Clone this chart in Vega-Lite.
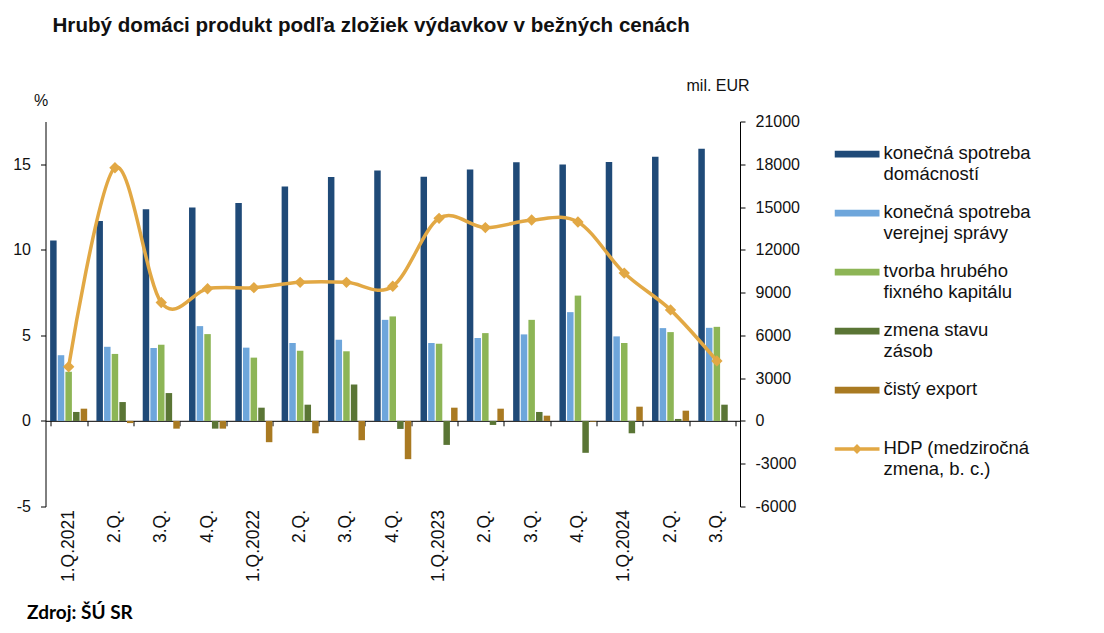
{
  "$schema": "https://vega.github.io/schema/vega-lite/v6.json",
  "width": 694.5,
  "height": 385,
  "autosize": {"type": "none"},
  "padding": {"left": 45.5, "top": 121.5, "right": 364, "bottom": 126.5},
  "background": "white",
  "config": {
    "view": {"stroke": null},
    "font": "Liberation Sans",
    "axis": {"labelFont": "Liberation Sans", "labelFontSize": 16, "labelColor": "#111", "domainColor": "#000", "tickColor": "#000", "grid": false, "titleFont": "Liberation Sans", "titleFontWeight": "normal", "titleFontSize": 16, "titleColor": "#111"}
  },
  "title": {
    "text": "Hrubý domáci produkt podľa zložiek výdavkov v bežných cenách",
    "anchor": "start",
    "frame": "group",
    "font": "Liberation Sans",
    "fontSize": 20.6,
    "fontWeight": "bold",
    "color": "#111",
    "dx": 7,
    "offset": 40
  },
  "datasets": {
    "bars": [
      {"q": "2021-1", "series": "konečná spotreba domácností", "value": 12650},
      {"q": "2021-1", "series": "konečná spotreba verejnej správy", "value": 4610},
      {"q": "2021-1", "series": "tvorba hrubého fixného kapitálu", "value": 3450},
      {"q": "2021-1", "series": "zmena stavu zásob", "value": 630},
      {"q": "2021-1", "series": "čistý export", "value": 860},
      {"q": "2021-2", "series": "konečná spotreba domácností", "value": 14025},
      {"q": "2021-2", "series": "konečná spotreba verejnej správy", "value": 5200},
      {"q": "2021-2", "series": "tvorba hrubého fixného kapitálu", "value": 4700},
      {"q": "2021-2", "series": "zmena stavu zásob", "value": 1325},
      {"q": "2021-2", "series": "čistý export", "value": -150},
      {"q": "2021-3", "series": "konečná spotreba domácností", "value": 14840},
      {"q": "2021-3", "series": "konečná spotreba verejnej správy", "value": 5115},
      {"q": "2021-3", "series": "tvorba hrubého fixného kapitálu", "value": 5345},
      {"q": "2021-3", "series": "zmena stavu zásob", "value": 1955},
      {"q": "2021-3", "series": "čistý export", "value": -540},
      {"q": "2021-4", "series": "konečná spotreba domácností", "value": 14975},
      {"q": "2021-4", "series": "konečná spotreba verejnej správy", "value": 6650},
      {"q": "2021-4", "series": "tvorba hrubého fixného kapitálu", "value": 6090},
      {"q": "2021-4", "series": "zmena stavu zásob", "value": -540},
      {"q": "2021-4", "series": "čistý export", "value": -540},
      {"q": "2022-1", "series": "konečná spotreba domácností", "value": 15280},
      {"q": "2022-1", "series": "konečná spotreba verejnej správy", "value": 5140},
      {"q": "2022-1", "series": "tvorba hrubého fixného kapitálu", "value": 4440},
      {"q": "2022-1", "series": "zmena stavu zásob", "value": 930},
      {"q": "2022-1", "series": "čistý export", "value": -1490},
      {"q": "2022-2", "series": "konečná spotreba domácností", "value": 16440},
      {"q": "2022-2", "series": "konečná spotreba verejnej správy", "value": 5465},
      {"q": "2022-2", "series": "tvorba hrubého fixného kapitálu", "value": 4930},
      {"q": "2022-2", "series": "zmena stavu zásob", "value": 1140},
      {"q": "2022-2", "series": "čistý export", "value": -865},
      {"q": "2022-3", "series": "konečná spotreba domácností", "value": 17100},
      {"q": "2022-3", "series": "konečná spotreba verejnej správy", "value": 5695},
      {"q": "2022-3", "series": "tvorba hrubého fixného kapitálu", "value": 4885},
      {"q": "2022-3", "series": "zmena stavu zásob", "value": 2555},
      {"q": "2022-3", "series": "čistý export", "value": -1350},
      {"q": "2022-4", "series": "konečná spotreba domácností", "value": 17560},
      {"q": "2022-4", "series": "konečná spotreba verejnej správy", "value": 7090},
      {"q": "2022-4", "series": "tvorba hrubého fixného kapitálu", "value": 7330},
      {"q": "2022-4", "series": "zmena stavu zásob", "value": -560},
      {"q": "2022-4", "series": "čistý export", "value": -2680},
      {"q": "2023-1", "series": "konečná spotreba domácností", "value": 17120},
      {"q": "2023-1", "series": "konečná spotreba verejnej správy", "value": 5465},
      {"q": "2023-1", "series": "tvorba hrubého fixného kapitálu", "value": 5415},
      {"q": "2023-1", "series": "zmena stavu zásob", "value": -1680},
      {"q": "2023-1", "series": "čistý export", "value": 930},
      {"q": "2023-2", "series": "konečná spotreba domácností", "value": 17630},
      {"q": "2023-2", "series": "konečná spotreba verejnej správy", "value": 5815},
      {"q": "2023-2", "series": "tvorba hrubého fixného kapitálu", "value": 6160},
      {"q": "2023-2", "series": "zmena stavu zásob", "value": -280},
      {"q": "2023-2", "series": "čistý export", "value": 860},
      {"q": "2023-3", "series": "konečná spotreba domácností", "value": 18140},
      {"q": "2023-3", "series": "konečná spotreba verejnej správy", "value": 6070},
      {"q": "2023-3", "series": "tvorba hrubého fixného kapitálu", "value": 7090},
      {"q": "2023-3", "series": "zmena stavu zásob", "value": 630},
      {"q": "2023-3", "series": "čistý export", "value": 370},
      {"q": "2023-4", "series": "konečná spotreba domácností", "value": 17980},
      {"q": "2023-4", "series": "konečná spotreba verejnej správy", "value": 7630},
      {"q": "2023-4", "series": "tvorba hrubého fixného kapitálu", "value": 8790},
      {"q": "2023-4", "series": "zmena stavu zásob", "value": -2235},
      {"q": "2023-4", "series": "čistý export", "value": -50},
      {"q": "2024-1", "series": "konečná spotreba domácností", "value": 18165},
      {"q": "2024-1", "series": "konečná spotreba verejnej správy", "value": 5930},
      {"q": "2024-1", "series": "tvorba hrubého fixného kapitálu", "value": 5465},
      {"q": "2024-1", "series": "zmena stavu zásob", "value": -865},
      {"q": "2024-1", "series": "čistý export", "value": 1000},
      {"q": "2024-2", "series": "konečná spotreba domácností", "value": 18535},
      {"q": "2024-2", "series": "konečná spotreba verejnej správy", "value": 6510},
      {"q": "2024-2", "series": "tvorba hrubého fixného kapitálu", "value": 6230},
      {"q": "2024-2", "series": "zmena stavu zásob", "value": 140},
      {"q": "2024-2", "series": "čistý export", "value": 720},
      {"q": "2024-3", "series": "konečná spotreba domácností", "value": 19090},
      {"q": "2024-3", "series": "konečná spotreba verejnej správy", "value": 6530},
      {"q": "2024-3", "series": "tvorba hrubého fixného kapitálu", "value": 6600},
      {"q": "2024-3", "series": "zmena stavu zásob", "value": 1140},
      {"q": "2024-3", "series": "čistý export", "value": 0}
    ],
    "hdp": [
      {"q": "2021-1", "hdp": 3.17},
      {"q": "2021-2", "hdp": 14.8},
      {"q": "2021-3", "hdp": 6.92},
      {"q": "2021-4", "hdp": 7.73},
      {"q": "2022-1", "hdp": 7.79},
      {"q": "2022-2", "hdp": 8.1},
      {"q": "2022-3", "hdp": 8.1},
      {"q": "2022-4", "hdp": 7.87},
      {"q": "2023-1", "hdp": 11.84},
      {"q": "2023-2", "hdp": 11.3},
      {"q": "2023-3", "hdp": 11.74},
      {"q": "2023-4", "hdp": 11.63},
      {"q": "2024-1", "hdp": 8.64},
      {"q": "2024-2", "hdp": 6.49},
      {"q": "2024-3", "hdp": 3.51}
    ]
  },
  "layer": [
    {
      "data": {"name": "bars"},
      "mark": {"type": "bar"},
      "encoding": {
        "x": {
          "field": "q",
          "type": "nominal",
          "sort": null,
          "scale": {"paddingInner": 0.2, "paddingOuter": 0.1},
          "axis": {
            "orient": "bottom",
            "domain": false,
            "ticks": false,
            "labelAngle": -90,
            "labelAlign": "right",
            "labelBaseline": "middle",
            "labelPadding": 3,
            "labelFontSize": 17.5,
            "labelExpr": "substring(datum.value, 5, 6) == '1' ? '1.Q.' + substring(datum.value, 0, 4) : substring(datum.value, 5, 6) + '.Q.'",
            "title": "Zdroj: ŠÚ SR",
            "titleFont": "Lato",
            "titleFontWeight": "bold",
            "titleFontSize": 19,
            "titleColor": "#000",
            "titleAlign": "left",
            "titleBaseline": "middle",
            "titleAngle": 0,
            "titleX": -19,
            "titleY": 106
          }
        },
        "xOffset": {
          "field": "series",
          "type": "nominal",
          "sort": ["konečná spotreba domácností", "konečná spotreba verejnej správy", "tvorba hrubého fixného kapitálu", "zmena stavu zásob", "čistý export"],
          "scale": {"paddingInner": 0.15, "paddingOuter": 0}
        },
        "y": {
          "field": "value",
          "type": "quantitative",
          "scale": {"domain": [-6000, 21000], "nice": false, "zero": false},
          "axis": {
            "orient": "right",
            "values": [-6000, -3000, 0, 3000, 6000, 9000, 12000, 15000, 18000, 21000],
            "format": "d",
            "labelExpr": "replace(datum.label, '−', '-')",
            "tickSize": 5,
            "labelPadding": 10,
            "title": "mil. EUR",
            "titleAngle": 0,
            "titleAlign": "left",
            "titleBaseline": "middle",
            "titleX": -54,
            "titleY": -36.5
          }
        },
        "color": {
          "field": "series",
          "type": "nominal",
          "scale": {
            "domain": ["konečná spotreba domácností", "konečná spotreba verejnej správy", "tvorba hrubého fixného kapitálu", "zmena stavu zásob", "čistý export", "HDP (medziročná zmena, b. c.)"],
            "range": ["#1F4A78", "#6EA6DB", "#8DB556", "#5A7535", "#A97A22", "#E2A844"]
          },
          "legend": {
            "title": null,
            "orient": "none",
            "legendX": 789,
            "legendY": 3.25,
            "labelFont": "Liberation Sans",
            "labelFontSize": 18.5,
            "labelColor": "#111",
            "labelLimit": 300,
            "labelOffset": 4,
            "symbolSize": 2025,
            "symbolStrokeWidth": 0,
            "symbolOpacity": 1,
            "clipHeight": 58.5,
            "rowPadding": 0,
            "labelExpr": "datum.label == 'konečná spotreba domácností' ? ['konečná spotreba', 'domácností'] : datum.label == 'konečná spotreba verejnej správy' ? ['konečná spotreba', 'verejnej správy'] : datum.label == 'tvorba hrubého fixného kapitálu' ? ['tvorba hrubého', 'fixného kapitálu'] : datum.label == 'zmena stavu zásob' ? ['zmena stavu', 'zásob'] : datum.label == 'HDP (medziročná zmena, b. c.)' ? ['HDP (medziročná', 'zmena, b. c.)'] : datum.label",
            "encode": {
              "symbols": {
                "update": {
                  "shape": {"signal": "datum.label == 'HDP (medziročná zmena, b. c.)' ? 'M-1,-0.075H1V0.075H-1Z M-0.22,0L0,-0.22L0.22,0L0,0.22Z' : 'M-1,-0.15H1V0.15H-1Z'"},
                  "fillOpacity": {"value": 1},
                  "strokeWidth": {"value": 0}
                }
              },
              "labels": {
                "update": {"baseline": {"value": "top"}, "dy": {"value": -10.5}, "lineHeight": {"value": 21}}
              }
            }
          }
        }
      }
    },
    {
      "data": {"name": "hdp"},
      "mark": {"type": "line", "interpolate": "cardinal", "strokeWidth": 3.5, "point": {"shape": "diamond", "size": 130, "filled": true, "opacity": 1}},
      "encoding": {
        "x": {
          "field": "q",
          "type": "nominal",
          "sort": null,
          "axis": {
            "orient": "bottom",
            "offset": -85.7,
            "labels": false,
            "domain": true,
            "domainColor": "#000",
            "ticks": true,
            "tickBand": "extent",
            "tickSize": 5,
            "title": null
          }
        },
        "y": {
          "field": "hdp",
          "type": "quantitative",
          "scale": {"domain": [-5, 17.5], "nice": false, "zero": false},
          "axis": {
            "orient": "left",
            "values": [-5, 0, 5, 10, 15],
            "labelExpr": "replace(datum.label, '−', '-')",
            "tickSize": 5,
            "labelPadding": 10,
            "title": "%",
            "titleAngle": 0,
            "titleAlign": "left",
            "titleBaseline": "middle",
            "titleX": -12,
            "titleY": -21
          }
        },
        "color": {"datum": "HDP (medziročná zmena, b. c.)", "type": "nominal"}
      }
    }
  ],
  "resolve": {"scale": {"y": "independent"}, "axis": {"x": "independent"}}
}
